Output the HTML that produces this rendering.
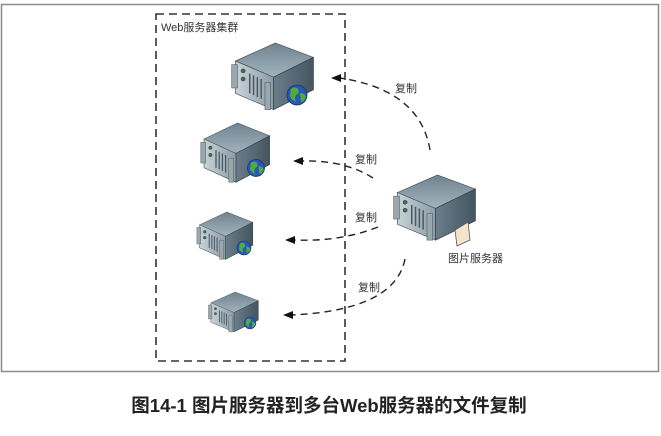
<!DOCTYPE html>
<html><head><meta charset="utf-8"><style>
body{margin:0;background:#fff;width:661px;height:431px;overflow:hidden;font-family:"Liberation Sans","Noto Sans CJK SC",sans-serif}
</style></head><body>
<svg width="661" height="431" viewBox="0 0 661 431" xmlns="http://www.w3.org/2000/svg">
<defs>
<linearGradient id="tp" x1="0" y1="0" x2="0" y2="1"><stop offset="0" stop-color="#6f8390"/><stop offset="1" stop-color="#a3b3bc"/></linearGradient>
<linearGradient id="fr" x1="0" y1="0" x2="1" y2="0"><stop offset="0" stop-color="#c9d3d8"/><stop offset="1" stop-color="#8c9ca6"/></linearGradient>
<linearGradient id="sd" x1="0" y1="0" x2="1" y2="0"><stop offset="0" stop-color="#6a7d89"/><stop offset="1" stop-color="#44555f"/></linearGradient>
<g id="srv">
<polygon points="10,20 52,0 92,16 50,38" fill="url(#tp)" stroke="#4a5a64" stroke-width="0.8"/>
<polygon points="10,20 50,38 50,74 10,56" fill="url(#fr)" stroke="#4a5a64" stroke-width="0.8"/>
<polygon points="50,38 92,16 92,52 50,74" fill="url(#sd)" stroke="#33434d" stroke-width="0.8"/>
<rect x="6" y="24" width="6" height="26" fill="#9aa7ae" stroke="#4a5a64" stroke-width="0.6"/>
<circle cx="18" cy="31" r="2.2" fill="#3f6d4a" stroke="#223" stroke-width="0.4"/><circle cx="18" cy="40" r="2.2" fill="#3f6d4a" stroke="#223" stroke-width="0.4"/>
<g stroke="#4a5a64" stroke-width="1.6"><line x1="25" y1="34" x2="25" y2="56"/><line x1="29" y1="36" x2="29" y2="58"/><line x1="33" y1="38" x2="33" y2="60"/><line x1="37" y1="40" x2="37" y2="62"/></g>
<rect x="41" y="44" width="6" height="30" fill="#9aa7ae" stroke="#4a5a64" stroke-width="0.6"/>
</g>
<g id="glb"><circle r="10" fill="#2a56b8" stroke="#1a2f66" stroke-width="0.8"/><path d="M-6,-6 q4,-3 7,0 q2,4 -2,6 q-2,3 0,7 q-5,-2 -6,-6 z M3,-2 q5,0 6,4 q-2,5 -5,5 z" fill="#4caf3a"/></g>
</defs>
<rect x="1.5" y="4.5" width="657" height="367" fill="none" stroke="#8a8a8a" stroke-width="1.5"/>
<rect x="156" y="14" width="189" height="347" fill="none" stroke="#333" stroke-width="1.6" stroke-dasharray="8,5"/>
<text x="161" y="31" font-size="11" fill="#333">Web服务器集群</text>
<use href="#srv" transform="translate(226,43) scale(0.95,0.9)"/><use href="#glb" transform="translate(297,95)"/>
<use href="#srv" transform="translate(196,123) scale(0.8,0.8)"/><use href="#glb" transform="translate(256,168) scale(0.85)"/>
<use href="#srv" transform="translate(193,212) scale(0.65,0.64)"/><use href="#glb" transform="translate(244,248) scale(0.7)"/>
<use href="#srv" transform="translate(205,292) scale(0.58,0.54)"/><use href="#glb" transform="translate(250,323) scale(0.6)"/>
<use href="#srv" transform="translate(388,175) scale(0.95,0.88)"/>
<polygon points="455,230 468,222 470,240 457,246" fill="#f3e6c8" stroke="#555" stroke-width="0.8"/>
<g fill="none" stroke="#222" stroke-width="1.4" stroke-dasharray="7,5">
<path d="M430,150 Q420,90 340,78"/>
<path d="M373,178 Q345,160 302,161"/>
<path d="M378,227 Q340,242 294,240"/>
<path d="M405,259 Q395,310 292,315"/>
</g>
<g fill="#111">
<polygon points="331,78 341,74 341,82"/>
<polygon points="293,161 303,157 303,165"/>
<polygon points="285,240 295,236 295,244"/>
<polygon points="283,315 293,311 293,319"/>
</g>
<g font-size="11" fill="#333">
<text x="395" y="92">复制</text>
<text x="355" y="163">复制</text>
<text x="355" y="221">复制</text>
<text x="358" y="291">复制</text>
<text x="448" y="262">图片服务器</text>
</g>
<text x="329" y="412" font-size="18.5" font-weight="bold" text-anchor="middle" fill="#222">图14-1 图片服务器到多台Web服务器的文件复制</text>
</svg>
</body></html>
